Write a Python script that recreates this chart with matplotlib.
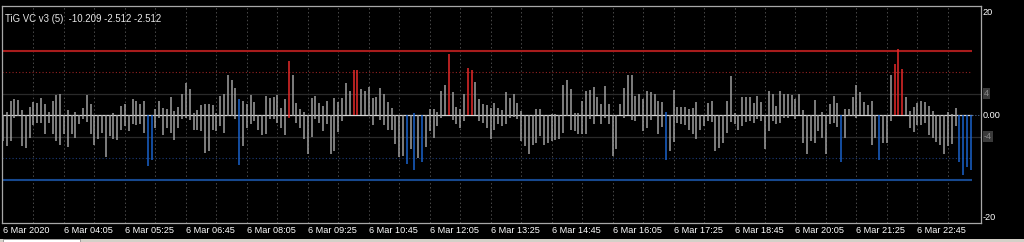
import matplotlib
matplotlib.use("Agg")
import matplotlib.pyplot as plt
from matplotlib.patches import Rectangle
import matplotlib.transforms as mtransforms

# indicator window: each 5-minute bar is a segment from bar_low to bar_high
bar_high = [
    0, 0.5, 2.6, 2.9, 2.8, 1.0, 0, 1.5, 2.4, 2.2,
    3.2, 2.0, 0.5, 2.6, 3.8, 4.0, 0.1, 1.0, 0, 0.5,
    0, 1.4, 3.8, 2.0, 0.1, 0, 0, 0, 0, 0.3,
    0, 1.7, 2.0, 0.1, 2.9, 2.7, 2.0, 2.7, 0, 0,
    1.2, 2.6, 1.4, 1.1, 3.4, 0.7, 1.5, 4.0, 6.0, 4.9,
    0.4, 0.9, 1.9, 2.1, 2.0, 1.8, 0.4, 3.5, 4.0, 7.5,
    6.5, 5.0, 3.0, 2.7, 2.0, 3.8, 2.4, 0, 0.1, 3.5,
    3.2, 3.4, 3.7, 1.4, 2.9, 10.1, 7.4, 2.2, 1.1, 0.6,
    0, 3.2, 3.5, 2.2, 1.6, 2.7, 0, 3.2, 2.4, 3.2,
    5.9, 4.5, 8.3, 8.3, 4.8, 4.5, 5.3, 3.2, 3.4, 5.0,
    4.0, 2.4, 1.4, 0, 0, 0, 0, 0, 0.4, 0,
    0, 0, 1.1, 1.1, 0.6, 4.5, 5.5, 11.3, 4.3, 1.5,
    1.1, 4.0, 8.7, 8.4, 6.2, 2.9, 2.0, 1.9, 1.4, 2.2,
    1.4, 0.9, 4.3, 3.2, 3.9, 2.3, 0.7, 0, 0, 0,
    1.1, 1.2, 0, 0, 0.2, 0.2, 0, 5.5, 6.6, 4.8,
    0.3, 0.3, 2.6, 4.5, 4.6, 5.2, 3.4, 2.1, 5.4, 2.0,
    0.1, 0.1, 2.0, 5.1, 7.4, 7.4, 3.5, 3.9, 2.9, 4.5,
    4.3, 4.0, 2.7, 2.4, 0.6, 0, 4.6, 1.5, 1.5, 1.5,
    1.1, 1.4, 2.4, 0, 0, 2.3, 2.6, 0, 0, 0,
    2.7, 7.3, 0.4, 0, 3.4, 3.4, 3.4, 2.3, 3.5, 2.4,
    0, 4.5, 4.0, 1.6, 4.5, 3.9, 3.9, 3.7, 2.9, 3.9,
    0.9, 0, 0, 2.8, 0, 0.6, 0, 2.1, 3.5, 2.2,
    0, 1.2, 1.2, 3.4, 5.6, 4.2, 2.4, 1.8, 2.7, 0,
    0, 0, 0, 7.5, 9.4, 12.3, 8.6, 3.4, 0.8, 1.5,
    2.3, 2.7, 2.5, 1.7, 0.7, 0, 0, 0, 0.6, 0.2,
    1.3, 0, 0, 0, 0,
]
bar_low = [
    -4.8, -5.8, -4.8, -0.5, -0.2, -5.8, -6.2, -4.2, -1.9, -1.4,
    -1.4, -3.5, -1.4, -3.6, -4.8, -5.5, -3.6, -5.9, -3.6, -4.3,
    -1.7, -0.8, -1.3, -3.5, -5.6, -4.5, -3.3, -7.8, -3.9, -4.4,
    -4.7, -2.7, -2.0, -2.9, -1.7, -1.9, -1.7, -3.3, -9.4, -8.4,
    -2.4, -0.5, -3.7, -2.4, -3.3, -4.6, -2.4, -0.8, -0.6, -1.0,
    -2.7, -2.7, -3.0, -7.0, -6.6, -2.7, -3.0, -2.0, -3.3, -0.2,
    -0.2, -0.8, -9.2, -5.8, -2.4, -1.7, -1.1, -2.7, -3.8, -3.6,
    -0.7, -0.7, -1.4, -2.4, -3.8, -0.5, -0.2, -1.4, -2.5, -4.4,
    -7.3, -4.1, -0.8, -1.4, -2.9, -1.7, -7.2, -6.6, -3.1, -1.1,
    0, 0, 0, 0, 0, 0, -0.2, -1.9, 0, -1.0,
    -1.9, -2.7, -2.7, -5.3, -7.8, -7.6, -9.1, -6.4, -10.2, -7.9,
    -8.8, -6.0, -3.0, -4.2, -2.0, -0.5, 0, 0, -0.9, -1.6,
    -2.5, -1.1, 0, 0, 0, -1.2, -1.4, -2.5, -4.5, -2.7,
    -1.7, -2.1, -1.6, -0.5, -0.4, -0.8, -4.8, -5.8, -7.2, -5.5,
    -5.2, -3.9, -5.5, -5.2, -4.8, -4.7, -4.5, -3.3, -0.2, -2.7,
    -2.9, -3.5, -3.5, -3.6, -0.8, -1.7, 0, -1.6, -0.6, -1.7,
    -7.6, -6.4, 0, -0.5, 0, -0.9, -1.1, 0, -2.9, -2.5,
    -0.9, 0, -3.6, -2.2, -8.4, -6.7, -5.0, -1.5, -1.7, -1.9,
    -2.7, -3.6, -4.5, -2.7, -2.0, -1.1, -1.3, -6.7, -6.2, -5.2,
    -3.3, -1.3, -1.7, -2.7, -2.0, -1.3, -1.1, -1.4, -0.8, -1.1,
    -6.3, -3.0, -1.1, -1.6, -1.4, -0.5, -0.5, 0, -0.8, 0,
    -5.2, -7.2, -4.8, -5.2, -2.9, -4.2, -7.3, -1.7, -1.4, -2.2,
    -8.7, -4.2, -0.2, -0.2, -0.6, 0, 0, 0, -5.5, -4.2,
    -8.3, -5.2, -5.2, -1.2, 0, 0, 0, 0, -2.5, -3.1,
    -1.8, -1.8, -1.5, -3.7, -4.3, -5.0, -5.6, -7.3, -5.8, -5.3,
    -2.0, -8.8, -11.1, -9.7, -10.21,
]
time_labels = ["6 Mar 2020", "6 Mar 04:05", "6 Mar 05:25", "6 Mar 06:45",
               "6 Mar 08:05", "6 Mar 09:25", "6 Mar 10:45", "6 Mar 12:05",
               "6 Mar 13:25", "6 Mar 14:45", "6 Mar 16:05", "6 Mar 17:25",
               "6 Mar 18:45", "6 Mar 20:05", "6 Mar 21:25", "6 Mar 22:45"]
bars_per_label = 16
grid_step = 8
strong_level = 12
signal_level = 8
grid_level = 4
title = "TiG VC v3 (5)  -10.209 -2.512 -2.512"

plt.rcParams['font.family'] = ['Liberation Sans', 'DejaVu Sans']
fsize = 6.6

W, H = 1024, 242
fig = plt.figure(figsize=(W / 100, H / 100), dpi=100, facecolor='black')
ax = fig.add_axes([2 / W, 1 - 223 / H, 979 / W, 217 / H], facecolor='black')

n = len(bar_high)
x = list(range(n))
last = n - 1 + 0.3
px = 3.81  # pixels per bar
xmin, xmax = -1 / px, 978 / px
ax.set_xlim(xmin, xmax)
ax.set_ylim(-109 / 5.375 + 0.2, 109 / 5.375)

# vertical dotted grid
for g in range(grid_step, n, grid_step):
    ax.axvline(g, color='#4a4a4a', lw=0.7, ls=(0, (1.5, 2.5)), zorder=1)

# level lines
ax.hlines([grid_level, -grid_level], xmin, xmax, color='#2a2a2a', lw=0.9, zorder=1)
ax.hlines(0, xmin, last, color='#d8d8d8', lw=0.9, zorder=3)
ax.hlines(0, last, xmax, color='#6080b0', lw=0.7, ls=(0, (1, 2)), zorder=3)
ax.hlines(signal_level, xmin, last, color='#962222', lw=0.8, ls=(0, (1, 2)), zorder=1)
ax.hlines(-signal_level, xmin, last, color='#1c3c78', lw=0.8, ls=(0, (1, 2)), zorder=1)
ax.hlines(strong_level, xmin, last, color='#a81c1c', lw=1.5, zorder=2)
ax.hlines(-strong_level, xmin, last, color='#17488e', lw=1.5, zorder=2)

colors = []
for hi, lo in zip(bar_high, bar_low):
    if hi > signal_level:
        colors.append('#e82a2a')
    elif lo < -signal_level:
        colors.append('#1a62cc')
    else:
        colors.append('#a0a0a0')
ax.vlines(x, bar_low, bar_high, colors=colors, lw=1.1, zorder=4)

for s in ax.spines.values():
    s.set_color('#a8a8a8')
    s.set_linewidth(0.9)

ax.set_yticks([])
ax.set_xticks(range(0, n, bars_per_label))
ax.set_xticklabels(time_labels, color='white', fontsize=fsize, ha='left')
ax.tick_params(axis='x', length=0, pad=2.5)

ax.text(0.003, 0.965, title, transform=ax.transAxes, color='#e8e8e8',
        fontsize=6.9, ha='left', va='top')

tr = mtransforms.blended_transform_factory(ax.transAxes, ax.transData)
ax.text(1.002, 19.0, "20", transform=tr, color='white', fontsize=fsize,
        va='center', ha='left', clip_on=False)
ax.text(1.002, 0, "0.00", transform=tr, color='white', fontsize=fsize,
        va='center', ha='left', clip_on=False)
ax.text(1.002, -19.0, "-20", transform=tr, color='white', fontsize=fsize,
        va='center', ha='left', clip_on=False)
for v, lab in [(grid_level, "4"), (-grid_level, "-4")]:
    ax.text(1.003, v, lab, transform=tr, color='#8a8a8a', fontsize=fsize,
            va='center', ha='left', clip_on=False,
            bbox=dict(boxstyle='square,pad=0.15', fc='#3a3a3a', ec='none'))

# status strip at the very bottom
fig.patches.append(Rectangle((0, 0), 1, 3 / H, transform=fig.transFigure,
                             fc='#d4d0c8', ec='none'))
fig.patches.append(Rectangle((3 / W, 0), 77 / W, 3 / H, transform=fig.transFigure,
                             fc='white', ec='#808080', lw=0.5))

fig.savefig("out.png", dpi=100, facecolor='black')
